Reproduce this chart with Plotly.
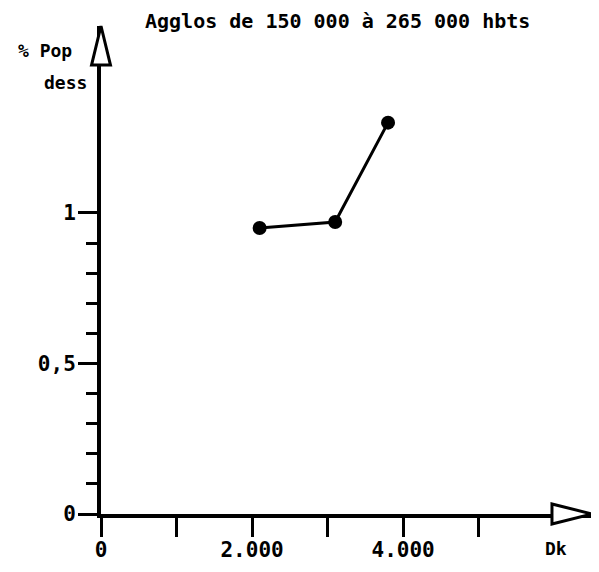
import plotly.graph_objects as go

# data
dk = [2100, 3100, 3800]
pop_dess = [0.95, 0.97, 1.3]

x_ticks = [0, 1000, 2000, 3000, 4000, 5000]
x_labels = ["0", "", "2.000", "", "4.000", ""]
y_ticks = [0, 0.5, 1]
y_labels = ["0", "0,5", "1"]
y_minor = [0.1, 0.2, 0.3, 0.4, 0.6, 0.7, 0.8, 0.9]

FONT = "DejaVu Sans Mono"

fig = go.Figure()

fig.add_trace(go.Scatter(
    x=dk,
    y=pop_dess,
    mode="lines+markers",
    line=dict(color="black", width=3),
    marker=dict(size=14, color="black"),
    showlegend=False,
    hoverinfo="skip",
))

# page body adds 8px, so the figure is 8px smaller and margins shifted
fig.update_layout(
    width=591,
    height=564,
    margin=dict(l=93, r=7, t=18, b=58),
    plot_bgcolor="white",
    paper_bgcolor="white",
    font=dict(family=FONT, size=21, color="black", weight="bold"),
    xaxis=dict(
        range=[0, 6500],
        showgrid=False,
        zeroline=False,
        showline=True,
        linecolor="black",
        linewidth=4,
        ticks="outside",
        ticklen=19,
        tickwidth=3,
        tickcolor="black",
        tickmode="array",
        tickvals=x_ticks,
        ticktext=x_labels,
        ticklabelstandoff=-5,
    ),
    yaxis=dict(
        range=[0, 1.621],
        showgrid=False,
        zeroline=False,
        showline=True,
        linecolor="black",
        linewidth=4,
        ticks="outside",
        ticklen=19,
        tickwidth=3,
        tickcolor="black",
        tickmode="array",
        tickvals=y_ticks,
        ticktext=y_labels,
        ticklabelstandoff=-2,
        minor=dict(
            tickmode="array",
            tickvals=y_minor,
            ticks="outside",
            ticklen=11,
            tickwidth=3,
            tickcolor="black",
        ),
    ),
)

# hollow arrow heads on both axes
fig.add_shape(
    type="path", xref="paper", yref="paper", layer="above",
    path="M -0.0193 0.92 L 0 1 L 0.0193 0.92 Z",
    fillcolor="white", line=dict(color="black", width=3),
)
fig.add_shape(
    type="path", xref="paper", yref="paper", layer="above",
    path="M 0.9185 -0.0205 L 1 0 L 0.9185 0.0205 Z",
    fillcolor="white", line=dict(color="black", width=3),
)


# reference pixel -> paper coords
def px(xp):
    return (xp - 101) / 491


def py(yp):
    return (514 - yp) / 488


labels = [
    ("Agglos de 150 000 à 265 000 hbts", 337, 21, 20),
    ("% Pop", 45, 50, 18),
    ("dess", 65, 82, 18),
    ("Dk", 556, 548, 18),
]
for text, xp, yp, size in labels:
    fig.add_annotation(
        x=px(xp), y=py(yp), xref="paper", yref="paper", text=text,
        xanchor="center", yanchor="middle", showarrow=False,
        font=dict(size=size),
    )

fig.write_html("out.html")
